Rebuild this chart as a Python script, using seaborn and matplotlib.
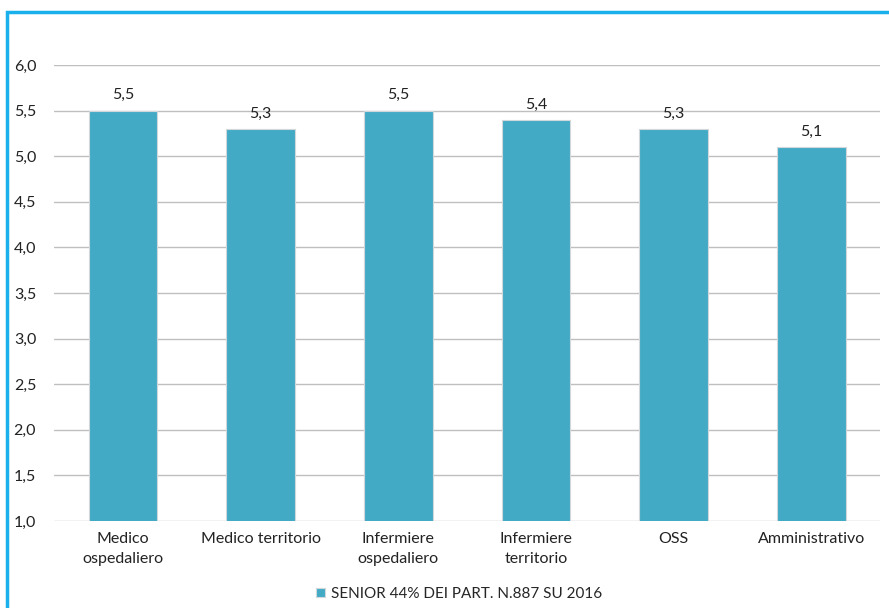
import matplotlib
matplotlib.use('Agg')
import matplotlib.pyplot as plt
import seaborn as sns
import pandas as pd
from matplotlib.patches import Rectangle

# Data
categories = ['Medico\nospedaliero', 'Medico territorio', 'Infermiere\nospedaliero',
              'Infermiere\nterritorio', 'OSS', 'Amministrativo']
values = [5.5, 5.3, 5.5, 5.4, 5.3, 5.1]
series_name = 'SENIOR 44% DEI PART. N.887 SU 2016'
y_ticks = [1.0, 1.5, 2.0, 2.5, 3.0, 3.5, 4.0, 4.5, 5.0, 5.5, 6.0]

df = pd.DataFrame({'categoria': categories, 'valore': values, 'serie': series_name})

sns.set_style("white")
plt.rcParams['font.family'] = ['Lato', 'DejaVu Sans']

fig = plt.figure(figsize=(8.89, 6.08), dpi=100)
ax = fig.add_axes([0.061, 0.143, 0.929, 0.750])

bar_color = '#43AAC6'
sns.barplot(data=df, x='categoria', y='valore', hue='serie', palette=[bar_color],
            saturation=1, width=0.5, ax=ax, edgecolor='#D0D8DC', linewidth=0.8)

ax.set_ylim(1.0, 6.0)
ax.set_yticks(y_ticks)
ax.set_yticklabels([f'{t:.1f}'.replace('.', ',') for t in y_ticks], fontsize=11.5, color='#222222')
ax.tick_params(axis='x', labelsize=11.5, colors='#222222', length=0, pad=8)
ax.tick_params(axis='y', length=0, pad=13)
for lbl in ax.get_xticklabels():
    lbl.set_linespacing(1.55)
ax.yaxis.grid(True, color='#BFBFBF', linewidth=1.0)
ax.set_axisbelow(True)
for s in ax.spines.values():
    s.set_visible(False)
ax.set_xlabel('')
ax.set_ylabel('')

for c in ax.containers:
    ax.bar_label(c, fmt=lambda v: f'{v:.1f}'.replace('.', ','), padding=6,
                 fontsize=11.5, color='#222222')

sns.move_legend(ax, 'lower center', bbox_to_anchor=(0.49, -0.205), frameon=False,
                title=None, fontsize=11, handlelength=0.6, handleheight=0.6,
                handletextpad=0.4)

# light blue frame around the figure (right and bottom cut off)
fig.patches.append(Rectangle((0.008, -0.1), 1.5, 1.08, transform=fig.transFigure,
                             fill=False, edgecolor='#19B0EC', linewidth=2.5, clip_on=False))

plt.savefig('out.png', dpi=100)
